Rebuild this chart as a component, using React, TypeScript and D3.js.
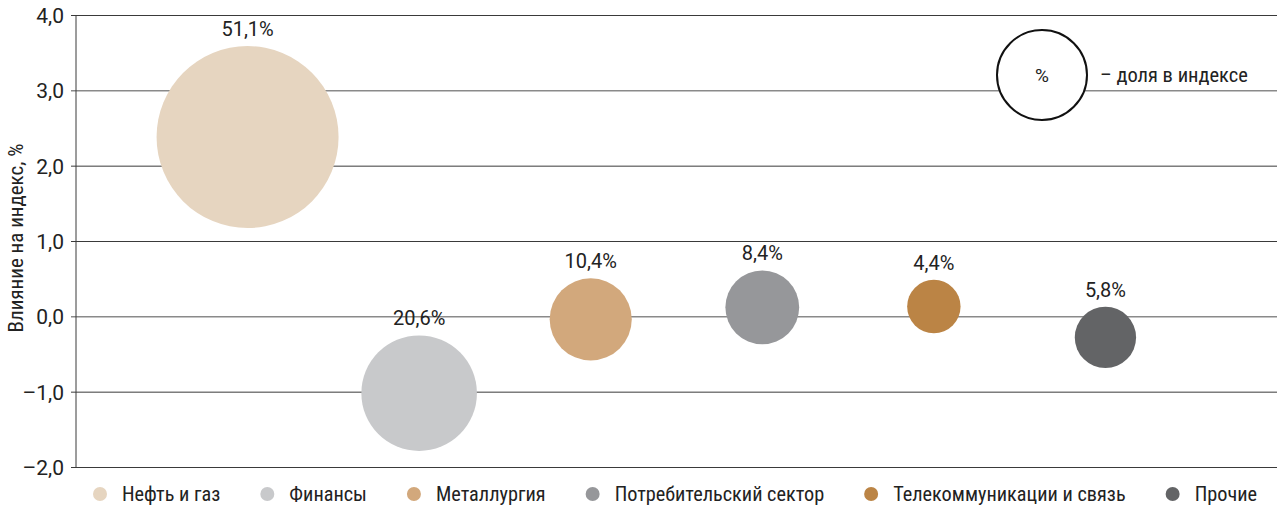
import React, { useEffect, useRef } from 'react';
import * as d3 from 'd3';

// Chart data
const categories = ['Нефть и газ', 'Финансы', 'Металлургия', 'Потребительский сектор', 'Телекоммуникации и связь', 'Прочие'];
const impactValues = [2.38, -1.02, -0.04, 0.12, 0.13, -0.28];
const indexShares = [51.1, 20.6, 10.4, 8.4, 4.4, 5.8];
const colors = ['#e6d5c0', '#c8c9cb', '#d2a87c', '#96979a', '#bb8445', '#636466'];
const yTicks = [-2, -1, 0, 1, 2, 3, 4];
const yTitle = 'Влияние на индекс, %';
const shareNote = '– доля в индексе';

const FONT = "'Liberation Sans Narrow', 'Roboto Condensed', 'DejaVu Sans Condensed', Roboto, sans-serif";
const NUM_FONT = 'Roboto, sans-serif';

const fmt = (v: number, digits: number) => {
    const s = Math.abs(v).toFixed(digits).replace('.', ',');
    return v < 0 ? '–' + s : s;
};

const App = () => {
    const ref = useRef<SVGSVGElement | null>(null);

    useEffect(() => {
        const width = 1277;
        const height = 508;
        const margin = { top: 15, right: 0, bottom: 41, left: 76 };

        const svg = d3.select(ref.current);
        svg.selectAll('*').remove();
        svg.attr('width', width).attr('height', height).style('font-family', FONT);

        const x = d3.scalePoint<string>()
            .domain(categories)
            .range([margin.left, width - margin.right])
            .padding(1);

        const y = d3.scaleLinear()
            .domain([-2, 4])
            .range([height - margin.bottom, margin.top]);

        const r = d3.scaleSqrt()
            .domain([0, d3.max(indexShares) as number])
            .range([0, 91]);

        // grid lines + y axis
        const axis = d3.axisLeft(y)
            .tickValues(yTicks)
            .tickSize(-(width - margin.left - margin.right))
            .tickFormat((d) => fmt(d as number, 1));

        const g = svg.append('g').attr('transform', `translate(${margin.left},0)`).call(axis);
        g.select('.domain').remove();
        g.selectAll('.tick line')
            .attr('x1', -5)
            .attr('stroke', (d) => ((d as number) === 0 || (d as number) === 3 ? '#8a8a8a' : '#3a3a3a'))
            .attr('stroke-width', (d) => ((d as number) === 0 || (d as number) === 3 ? 1.5 : 1));
        g.selectAll('.tick text')
            .attr('x', -12)
            .attr('dy', '0.36em')
            .attr('font-size', 21)
            .attr('font-family', NUM_FONT)
            .attr('fill', '#222');

        svg.append('line')
            .attr('x1', margin.left).attr('x2', margin.left)
            .attr('y1', y(4)).attr('y2', y(-2))
            .attr('stroke', '#3a3a3a');

        // y title
        svg.append('text')
            .attr('transform', `translate(23,${(y(4) + y(-2)) / 2 - 3}) rotate(-90)`)
            .attr('text-anchor', 'middle')
            .attr('font-size', 21)
            .attr('fill', '#222')
            .text(yTitle);

        // bubbles
        const bubbles = svg.append('g')
            .selectAll('g')
            .data(categories)
            .enter()
            .append('g');

        bubbles.append('circle')
            .attr('cx', (d) => x(d) as number)
            .attr('cy', (_, i) => y(impactValues[i]))
            .attr('r', (_, i) => r(indexShares[i]))
            .attr('fill', (_, i) => colors[i]);

        bubbles.append('text')
            .attr('x', (d) => x(d) as number)
            .attr('y', (_, i) => y(impactValues[i]) - r(indexShares[i]) - 10)
            .attr('text-anchor', 'middle')
            .attr('font-size', 20)
            .attr('font-family', NUM_FONT)
            .attr('fill', '#222')
            .text((_, i) => fmt(indexShares[i], 1) + '%');

        // size note
        svg.append('circle')
            .attr('cx', 1042).attr('cy', 75).attr('r', 45)
            .attr('fill', '#fff').attr('stroke', '#111').attr('stroke-width', 2);
        svg.append('text')
            .attr('x', 1042).attr('y', 82)
            .attr('text-anchor', 'middle')
            .attr('font-size', 19)
            .attr('font-family', NUM_FONT)
            .attr('fill', '#222')
            .text('%');
        svg.append('text')
            .attr('x', 1100).attr('y', 82)
            .attr('font-size', 20.5)
            .attr('fill', '#222')
            .text(shareNote);

        // legend
        let lx = 100;
        categories.forEach((c, i) => {
            svg.append('circle')
                .attr('cx', lx).attr('cy', 494).attr('r', 7)
                .attr('fill', colors[i]);
            const t = svg.append('text')
                .attr('x', lx + 22).attr('y', 501)
                .attr('font-size', 20.3)
                .attr('fill', '#222')
                .text(c);
            const w = (t.node() as SVGTextElement).getComputedTextLength();
            lx += 22 + w + 47;
        });
    }, []);

    return <svg ref={ref} style={{ position: 'absolute', left: 0, top: 0 }} />;
};

export default App;
